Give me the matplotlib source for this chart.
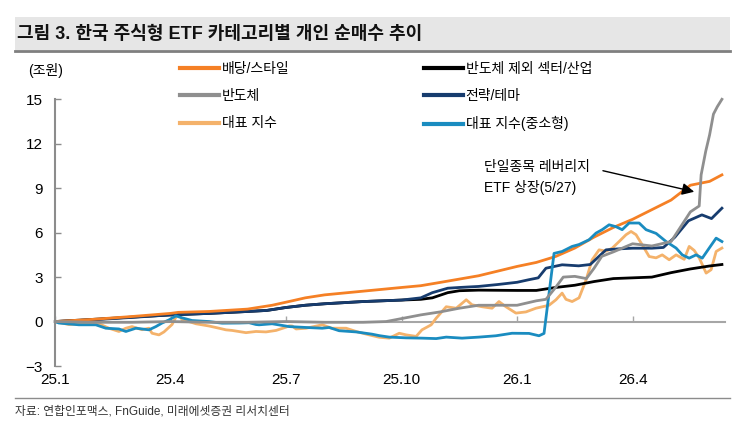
import matplotlib
matplotlib.use("Agg")
import matplotlib.pyplot as plt
from matplotlib.patches import Rectangle
from matplotlib.lines import Line2D

plt.rcParams['font.family'] = ['Liberation Sans', 'Noto Sans CJK KR']

# x = months since 2025-01
tick_pos = [0, 3, 6, 9, 12, 15]
tick_lab = ['25.1', '25.4', '25.7', '25.10', '26.1', '26.4']

div_x = [0, 1, 2, 3, 3.2, 4, 5, 5.64, 6.16, 6.5, 7, 8, 9, 9.5, 10, 11, 12, 12.5, 13, 13.5,
         14, 14.5, 15, 15.5, 16, 16.5, 17, 17.32]
div_y = [0, 0.15, 0.34, 0.55, 0.62, 0.68, 0.84, 1.1, 1.4, 1.6, 1.8, 2.05, 2.3, 2.42, 2.64, 3.09,
         3.72, 3.99, 4.39, 4.96, 5.7, 6.35, 6.9, 7.55, 8.2, 9.2, 9.46, 9.9]

sec_x = [0, 1, 2, 3, 4, 5, 5.5, 6, 6.5, 7, 8, 9, 9.5, 9.8, 10.2, 10.5, 11, 12, 12.5, 13, 13.5,
         14, 14.5, 15, 15.5, 16, 16.5, 17, 17.32]
sec_y = [0, 0.15, 0.3, 0.45, 0.55, 0.68, 0.75, 0.95, 1.1, 1.2, 1.35, 1.45, 1.5, 1.6, 1.95, 2.08,
         2.12, 2.1, 2.1, 2.3, 2.45, 2.7, 2.9, 2.95, 3.0, 3.3, 3.55, 3.75, 3.85]

semi_x = [0, 1, 2, 3, 4, 5, 6, 7, 8, 8.6, 9, 9.5, 10, 10.5, 11, 11.5, 12, 12.5, 12.75, 13,
          13.2, 13.5, 13.8, 14, 14.2, 14.5, 15, 15.5, 16, 16.3, 16.5, 16.73, 16.78, 16.9, 17.0,
          17.1, 17.2, 17.32]
semi_y = [0, -0.05, -0.05, 0.0, -0.05, -0.05, 0.0, -0.05, -0.05, 0.0, 0.2, 0.45, 0.65, 0.9, 1.1,
          1.1, 1.1, 1.4, 1.5, 2.3, 3.0, 3.05, 2.9, 3.6, 4.4, 4.7, 5.25, 5.1, 5.4, 6.6, 7.4, 7.8,
          9.9, 11.5, 12.6, 14.0, 14.5, 15.0]

thm_x = [0, 1, 2, 3, 4, 5, 5.5, 6, 6.5, 7, 8, 9, 9.5, 9.8, 10.2, 10.5, 11, 11.5, 12, 12.3,
         12.55, 12.75, 13.17, 13.6, 13.9, 14.31, 14.6, 15, 15.5, 15.8, 16.1, 16.45, 16.8, 17.05,
         17.32]
thm_y = [0, 0.12, 0.28, 0.45, 0.55, 0.68, 0.75, 0.95, 1.1, 1.2, 1.35, 1.45, 1.6, 1.95, 2.25, 2.3,
         2.37, 2.5, 2.65, 2.82, 2.95, 3.6, 3.83, 3.76, 3.85, 4.84, 4.9, 4.95, 4.95, 5.0, 5.7, 6.8,
         7.2, 6.95, 7.65]

idx_x = [0, 0.36, 0.96, 1.06, 1.4, 1.66, 1.84, 2.0, 2.26, 2.44, 2.52, 2.7, 2.83, 3.04, 3.17,
         3.22, 3.3, 3.48, 3.66, 4.0, 4.26, 4.44, 4.6, 4.96, 5.22, 5.48, 5.74, 6.0, 6.08, 6.16,
         6.26, 6.52, 6.94, 7.19, 7.56, 7.82, 8.16, 8.42, 8.68, 8.94, 9.12, 9.38, 9.53, 9.77, 9.9,
         10.16, 10.42, 10.68, 10.83, 11.09, 11.35, 11.53, 11.71, 11.97, 12.23, 12.49, 12.83,
         13.01, 13.17, 13.27, 13.43, 13.61, 13.79, 13.95, 14.13, 14.31, 14.47, 14.65, 14.83,
         14.96, 15.09, 15.25, 15.43, 15.61, 15.77, 15.95, 16.13, 16.34, 16.47, 16.6, 16.73,
         16.91, 17.04, 17.17, 17.32]
idx_y = [0, -0.2, -0.1, -0.05, -0.45, -0.67, -0.45, -0.34, -0.55, -0.45, -0.79, -0.9, -0.7,
         -0.2, 0.45, 0.57, 0.1, 0.0, -0.15, -0.3, -0.45, -0.56, -0.6, -0.75, -0.67, -0.7, -0.6,
         -0.38, -0.29, -0.3, -0.5, -0.45, -0.22, -0.45, -0.45, -0.67, -0.9, -1.06, -1.12, -0.79,
         -0.9, -1.0, -0.56, -0.22, 0.23, 1.0, 0.9, 1.47, 1.13, 1.0, 0.9, 1.35, 1.0, 0.57, 0.65,
         0.9, 1.1, 1.47, 1.92, 1.5, 1.35, 1.6, 2.8, 4.17, 4.84, 4.75, 4.95, 5.4, 5.86, 6.08,
         5.86, 5.18, 4.39, 4.3, 4.5, 4.17, 4.5, 4.2, 5.07, 4.8, 4.3, 3.27, 3.5, 4.73, 4.96]

small_x = [0, 0.1, 0.62, 1.06, 1.32, 1.66, 1.84, 2.1, 2.26, 2.44, 2.62, 2.78, 2.96, 3.14, 3.3,
           3.56, 4.0, 4.34, 4.78, 5.04, 5.22, 5.3, 5.64, 6.08, 6.52, 6.94, 7.12, 7.38, 7.82,
           8.23, 8.42, 8.68, 9.12, 9.53, 9.9, 10.16, 10.57, 11.01, 11.45, 11.87, 12.31, 12.57,
           12.7, 12.83, 12.96, 13.17, 13.43, 13.61, 13.87, 14.05, 14.21, 14.39, 14.57, 14.73,
           14.91, 15.17, 15.35, 15.61, 15.87, 16.13, 16.29, 16.47, 16.65, 16.81, 16.99, 17.17,
           17.32]
small_y = [0, -0.1, -0.22, -0.22, -0.45, -0.5, -0.67, -0.45, -0.5, -0.56, -0.34, -0.1, 0.11,
           0.38, 0.25, 0.07, 0.0, -0.11, -0.1, -0.08, -0.2, -0.22, -0.15, -0.34, -0.4, -0.45,
           -0.4, -0.62, -0.7, -0.85, -0.95, -1.05, -1.1, -1.12, -1.15, -1.05, -1.12, -1.05,
           -0.96, -0.79, -0.8, -0.96, -0.8, 1.9, 4.6, 4.73, 5.07, 5.2, 5.52, 5.97, 6.2, 6.53,
           6.4, 6.2, 6.65, 6.65, 6.2, 5.95, 5.4, 4.96, 4.5, 4.28, 4.5, 4.28, 4.96, 5.63, 5.4]

W, H = 745, 423
fig = plt.figure(figsize=(W / 100, H / 100), dpi=100)

# title band
fig.patches.append(Rectangle((15 / W, 1 - 50 / H), 715 / W, 33 / H, transform=fig.transFigure,
                             facecolor='#e6e6e6', edgecolor='none', zorder=0))
fig.add_artist(Line2D([15 / W, 730 / W], [1 - 51 / H] * 2, color='#7f7f7f', lw=2))
fig.text(17 / W, 1 - 34 / H, '그림 3. 한국 주식형 ETF 카테고리별 개인 순매수 추이',
         fontsize=13, fontweight='bold', va='center', color='#111111')

# source
fig.add_artist(Line2D([15 / W, 730 / W], [1 - 398 / H] * 2, color='#8c8c8c', lw=1))
fig.text(15 / W, 1 - 411 / H, '자료: 연합인포맥스, FnGuide, 미래에셋증권 리서치센터',
         fontsize=8.5, va='center', color='#333333')

ax = fig.add_axes([55 / W, 1 - 366 / H, 670 / W, (366 - 99.3) / H])

l_idx, = ax.plot(idx_x, idx_y, color='#f4b26b', lw=2)
l_sec, = ax.plot(sec_x, sec_y, color='black', lw=2)
l_thm, = ax.plot(thm_x, thm_y, color='#173c6e', lw=2)
l_div, = ax.plot(div_x, div_y, color='#f58025', lw=2)
l_small, = ax.plot(small_x, small_y, color='#1a8cc0', lw=2)
l_semi, = ax.plot(semi_x, semi_y, color='#8f8f8f', lw=2, clip_on=False)

ax.set_xlim(0, 17.4)
ax.set_ylim(-3, 15)
ax.set_yticks(range(-3, 16, 3))
ax.set_xticks(tick_pos)
for s in ['top', 'right']:
    ax.spines[s].set_visible(False)
ax.spines['left'].set_color('#8c8c8c')
ax.spines['left'].set_linewidth(1.5)
ax.spines['bottom'].set_position(('data', 0))
ax.spines['bottom'].set_color('#a6a6a6')
ax.spines['bottom'].set_linewidth(1.5)
ax.spines['bottom'].set_zorder(0.5)
ax.tick_params(axis='y', direction='in', length=4, width=1, color='#8c8c8c', labelsize=11, pad=9)
ax.tick_params(axis='x', direction='in', length=4, width=1, color='#a6a6a6', labelbottom=False)

sec = ax.secondary_xaxis('bottom')
sec.set_xticks(tick_pos, tick_lab)
sec.spines['bottom'].set_visible(False)
sec.tick_params(length=0, labelsize=11, pad=5)

fig.text(28 / W, 1 - 70 / H, '(조원)', fontsize=10, va='center')

ax.text(11.14, 9.7, '단일종목 레버리지\nETF 상장(5/27)', fontsize=10, va='center', linespacing=1.5)
ax.annotate('', xy=(16.6, 8.76), xytext=(14.23, 10.18),
            arrowprops=dict(arrowstyle='-|>', color='black', lw=1, mutation_scale=18,
                            shrinkA=0, shrinkB=0))

handles = [l_div, l_semi, l_idx, l_sec, l_thm, l_small]
labels = ['배당/스타일', '반도체', '대표 지수', '반도체 제외 섹터/산업', '전략/테마', '대표 지수(중소형)']
leg = fig.legend(handles, labels, ncol=2, loc='upper left', bbox_to_anchor=(180 / W, 1 - 62 / H),
                 frameon=False, fontsize=10, handlelength=2.8, handletextpad=0.2,
                 labelspacing=0.95, columnspacing=9.7, borderpad=0, borderaxespad=0)
for ln in leg.get_lines():
    ln.set_linewidth(3)

fig.savefig('out.png', dpi=100)
